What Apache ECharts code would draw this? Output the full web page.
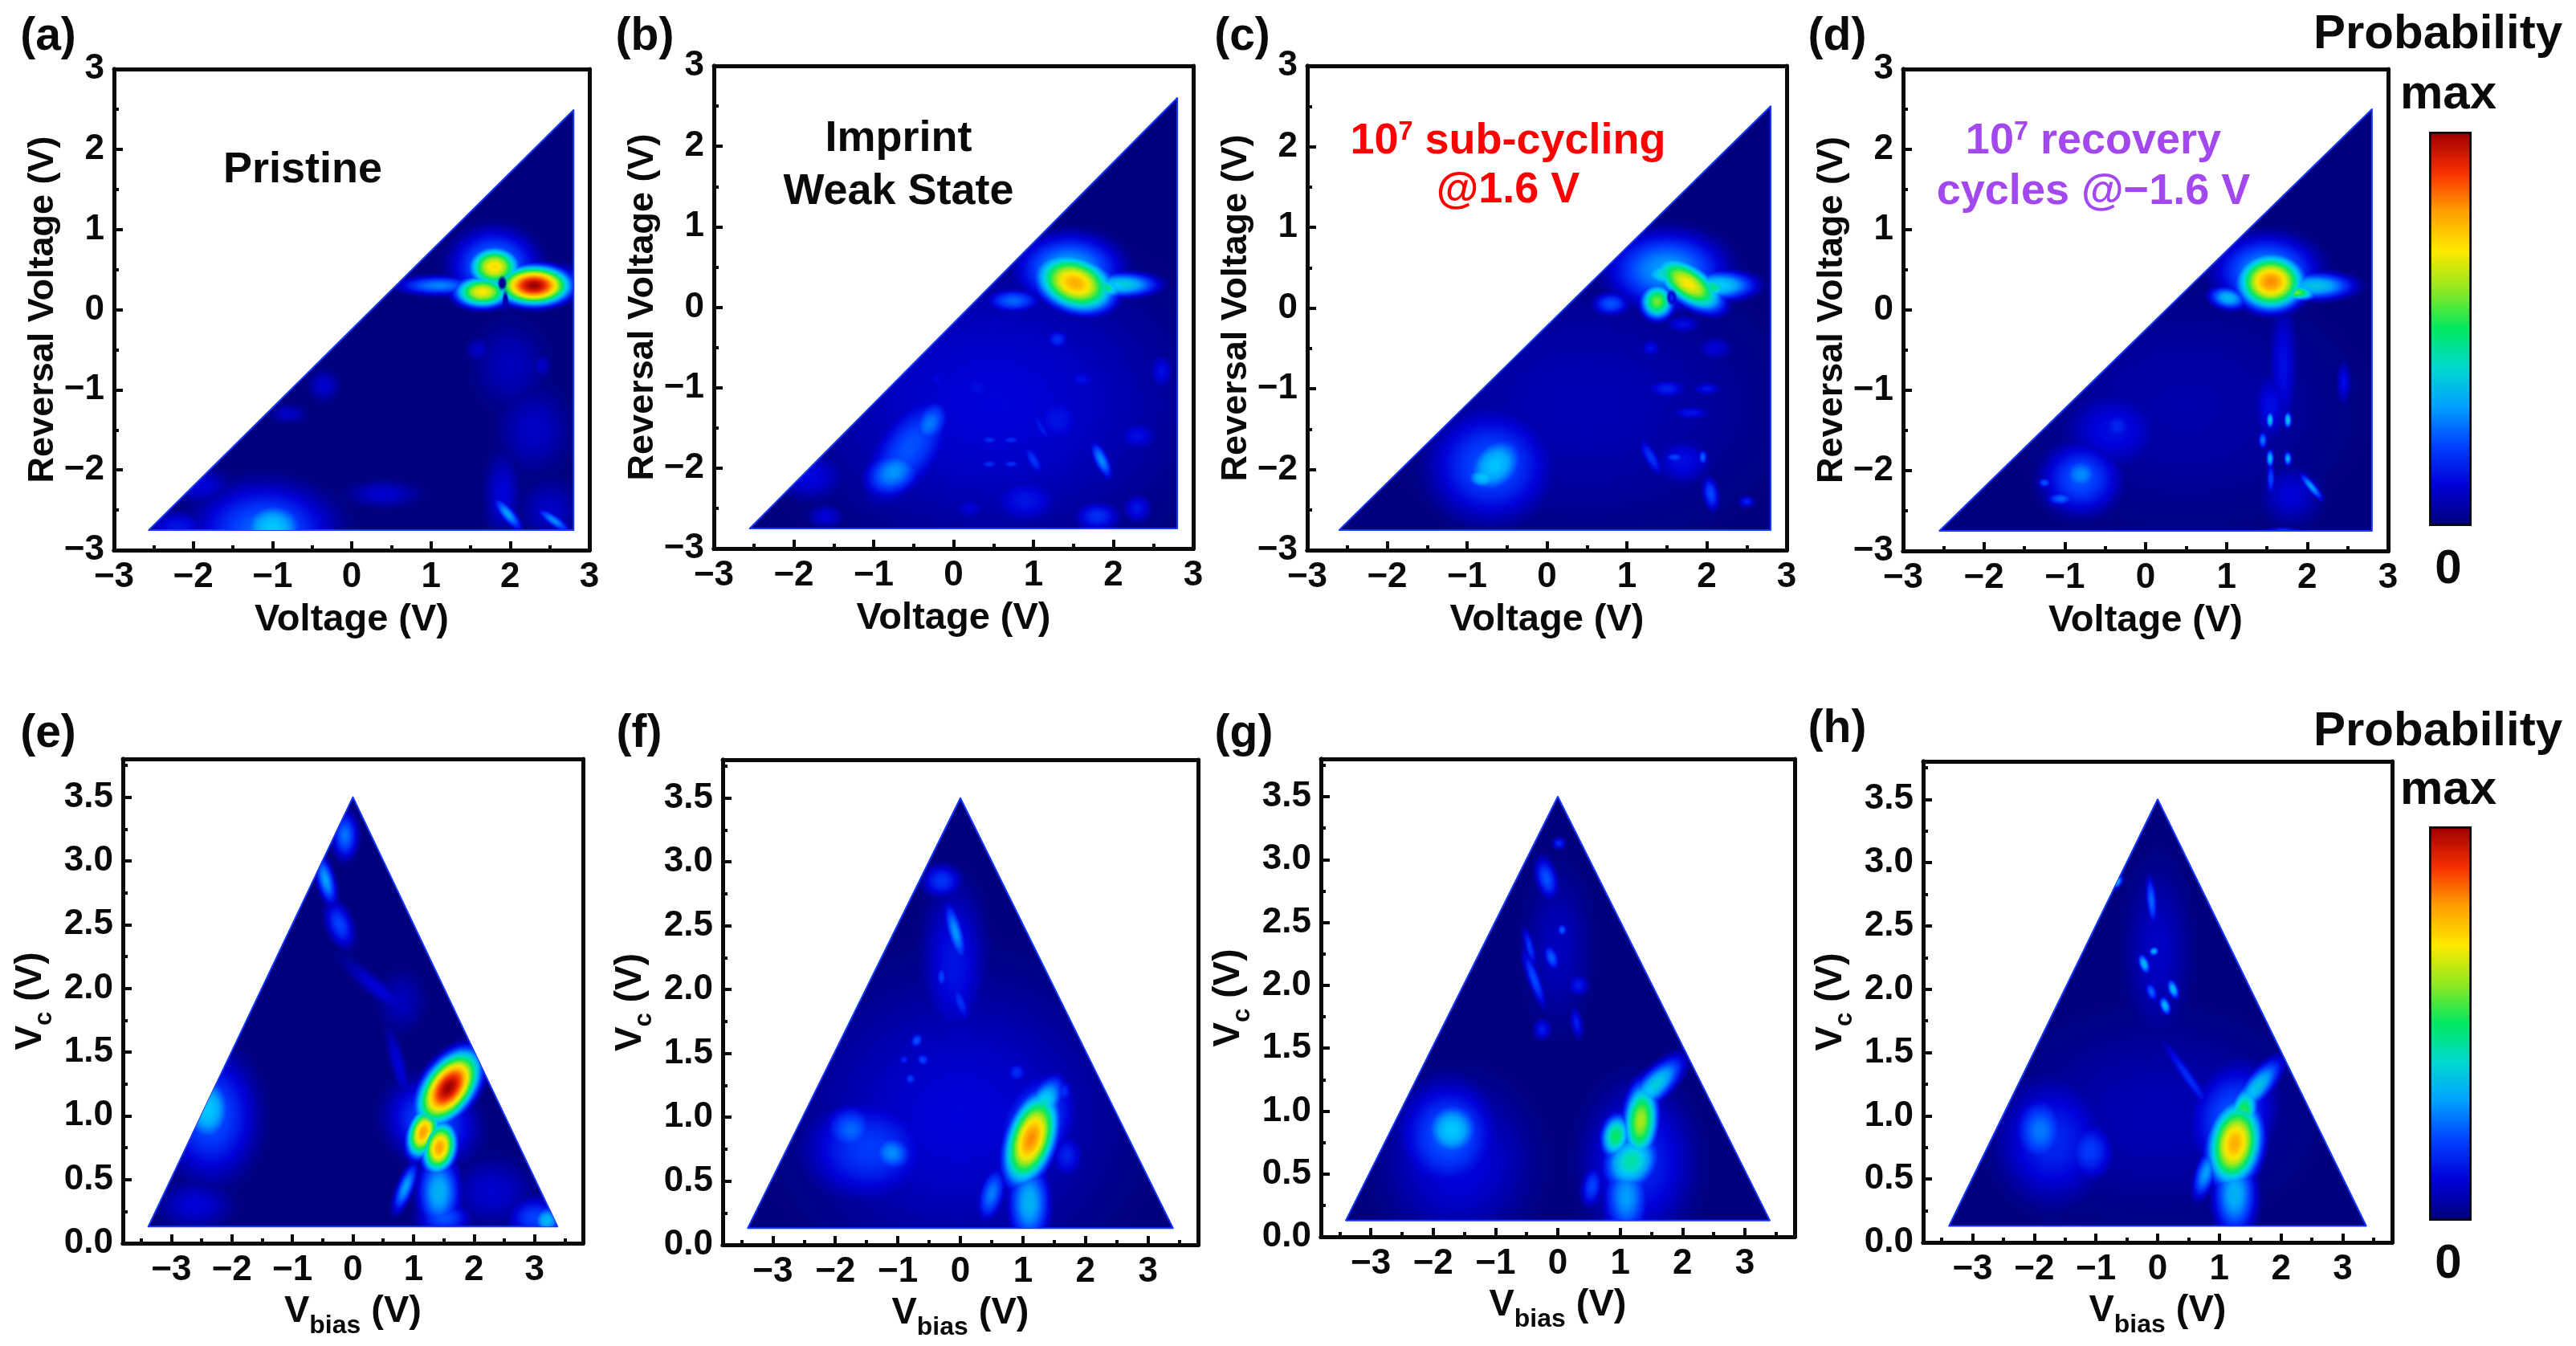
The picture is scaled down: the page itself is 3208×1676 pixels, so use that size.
<!DOCTYPE html>
<html><head><meta charset="utf-8"><style>html,body{margin:0;background:#fff}#c{width:3208px;height:1676px}</style>
<script src="https://cdn.jsdelivr.net/npm/echarts@6/dist/echarts.min.js"></script></head><body><div id="c"></div>
<script>
// Colour scale of the bars
const rampColors=['#00007f','#0000d8','#0040ff','#00a0ff','#00d8d0','#00e860','#90e820','#ffe800','#ffa000','#f83000','#a00000'];
// Axis ticks
const topMajor=[-3,-2,-1,0,1,2,3];
const topMinor=[-2.5,-1.5,-0.5,0.5,1.5,2.5];
const botXMajor=[-3,-2,-1,0,1,2,3];
const botXMinor=[-3.5,-2.5,-1.5,-0.5,0.5,1.5,2.5,3.5];
const botYMajor=[0,0.5,1,1.5,2,2.5,3,3.5];
const botYMinor=[0.25,0.75,1.25,1.75,2.25,2.75,3.25,3.75];
// Data-covered triangles (V)
const triA=[[-2.56,-2.75],[2.8,-2.75],[2.8,2.49]];
const triB=[[-2.55,-2.75],[2.8,-2.75],[2.8,2.6]];
const triC=[[-2.6,-2.75],[2.8,-2.75],[2.8,2.5]];
const triD=[[-2.55,-2.75],[2.8,-2.75],[2.8,2.5]];
const triE=[[-3.38,0.13],[3.38,0.13],[0,3.5]];
const triF=[[-3.4,0.13],[3.4,0.13],[0,3.5]];
const triG=[[-3.4,0.13],[3.4,0.13],[0,3.5]];
const triH=[[-3.38,0.13],[3.38,0.13],[0,3.5]];
// Probability features: [x, y, radiusX, radiusY, tiltDeg, level]
const hotA=[[1.9,-2.3,.3,.7,0,.1],[2.5,-2.5,.5,.5,0,.08],[-.35,-.95,.26,.26,0,.09],[-.8,-1.3,.3,.16,0,.08],[.4,-2.3,.6,.22,0,.09],[2,-.7,.6,.7,0,.07],[2.3,-1.5,.6,.7,0,.08],[-1.9,-2.2,.5,.3,0,.1],[1.6,-.5,.2,.2,0,.08],[2.4,-.7,.15,.2,0,.08],[-2.2,-2.7,.5,.25,0,.13],
[-1.1,-2.75,1.2,.8,0,.24],[-1,-2.72,.62,.48,0,.37],[1.97,-2.55,.36,.12,-50,.3],[2.55,-2.63,.34,.1,-35,.28],
[1.8,.55,.75,.62,0,.28],[1.1,.3,.72,.17,0,.27],[2.4,.32,.85,.32,0,.3],
[1.65,.22,.5,.28,0,.7],[1.8,.53,.46,.36,0,.72],[2.3,.3,.66,.35,0,1]];
const dipA=[[1.9,.33,.07,.11,0,.03],[1.94,.08,.05,.2,0,.07]];
const hotB=[[.5,-1.2,3.3,2.4,0,.1],[-1.8,-2.1,.6,.4,0,.11],[.9,-2.4,.6,.4,0,.13],[-.55,-1.75,1.1,.55,55,.22],[-.75,-2.05,.55,.4,30,.29],[-.3,-1.45,.46,.3,60,.26],[.75,.08,.46,.2,0,.24],
[1.85,-1.9,.36,.13,-65,.28],[1,-1.9,.3,.12,-60,.18],[1.1,-1.5,.4,.1,-60,.14],[.45,-1.65,.18,.08,0,.17],[.72,-1.65,.18,.08,0,.17],[.45,-1.95,.18,.08,0,.17],[.72,-1.95,.18,.08,0,.17],
[1.3,-.4,.2,.18,0,.17],[1.8,-2.6,.4,.25,0,.17],[1.3,-1.4,.5,.5,0,.13],[.3,-1,.35,.3,0,.12],[2.3,-1.6,.35,.25,0,.12],[1.6,-.9,.3,.2,0,.12],[2.6,-.8,.2,.3,0,.12],[-.2,-.9,.2,.2,0,.11],[2.3,-2.5,.25,.25,0,.13],[.2,-2.5,.3,.2,0,.1],[-1.6,-2.6,.3,.2,0,.1],
[1.45,.47,.9,.6,0,.32],[2.1,.28,.66,.22,0,.38],[1.85,.25,.42,.18,-10,.5],[1.52,.3,.72,.48,-20,.78]];
const hotC=[[.5,-1.2,3,2,0,.06],[-.7,-1.95,1.05,.95,0,.22],[-.65,-1.95,.62,.48,45,.36],[-.8,-2.1,.32,.22,0,.36],[1.3,-1.85,.36,.12,-60,.18],[1.95,-1.85,.08,.13,0,.24],[2.05,-2.3,.14,.3,10,.21],[2.5,-2.4,.14,.1,0,.15],[1.7,-1.9,.5,.4,0,.12],
[1.6,-1.85,.18,.09,0,.2],[1.5,-1,.34,.16,0,.15],[1.8,-1.3,.34,.12,0,.13],[2,-1,.24,.12,0,.13],[1.7,-.2,.3,.15,0,.12],[2.1,-.5,.3,.2,0,.1],[1.3,-.5,.18,.16,0,.12],[.8,.05,.32,.2,0,.22],
[1.5,.47,1.02,.66,0,.3],[2.15,.28,.66,.26,0,.38],[1.6,.42,.62,.24,0,.48],[1.38,.08,.3,.32,0,.58],[2,.25,.46,.2,0,.5],[1.77,.3,.7,.34,-35,.7]];
const dipC=[[1.56,.13,.08,.12,0,.16]];
const hotD=[[1.7,-.7,.24,1.1,0,.12],[1.55,-1.2,.3,.6,0,.12],[2.45,-.9,.12,.35,0,.12],[-.4,-1.5,.8,.65,0,.12],[1.8,-2.3,.5,.5,0,.1],[.5,-1.2,2.5,1.8,0,.05],[-.8,-2.1,.68,.62,0,.22],[-.8,-2.05,.38,.35,0,.28],[-1.25,-2.15,.12,.09,0,.22],[-1.05,-2.35,.24,.12,0,.24],[-.35,-1.45,.28,.28,0,.16],[1.7,-2.75,.24,.07,0,.18],
[1.54,-1.37,.07,.15,0,.36],[1.76,-1.37,.07,.15,0,.36],[1.45,-1.62,.08,.15,0,.26],[1.54,-1.85,.07,.16,0,.34],[1.76,-1.85,.07,.13,0,.32],[2.05,-2.2,.3,.08,-50,.3],[1.55,-2.1,.08,.28,0,.2],
[1.02,.15,.34,.2,-10,.34],[1.5,.48,.88,.62,0,.3],[2.1,.3,.68,.24,0,.36],[1.85,.22,.38,.14,-5,.58],[1.55,.35,.6,.5,0,.82]];
const hotE=[[2.3,.4,.9,.35,0,.09],[-2.6,.3,.8,.25,0,.1],[.4,2,1,.1,-40,.1],[.75,1.4,.9,.08,-75,.1],[.8,1.9,.5,.3,0,.07],[-.22,2.5,.55,.14,-70,.2],[-.13,3.2,.3,.26,0,.25],[-.45,2.85,.6,.1,-75,.3],
[-2.35,1,1.05,.68,0,.22],[-2.4,1.05,.6,.4,0,.37],[3,.2,.6,.22,0,.2],[3.2,.18,.34,.16,0,.34],[1.5,.2,.6,.18,0,.22],[.87,.44,.62,.09,68,.3],[1.42,.4,.5,.42,0,.33],[1.3,.95,.9,.5,60,.22],
[1.16,.87,.62,.17,72,.8],[1.43,.75,.62,.19,78,.8],[1.58,1.22,1,.27,54,1]];
const hotF=[[0,1,3.4,1.5,0,.1],[-.1,2.2,.7,.85,0,.13],[-1.45,.75,1.4,.55,0,.19],[-1.75,.9,.6,.28,0,.24],[-1.1,.72,.5,.22,-20,.28],[-.08,2.45,.68,.09,-75,.29],[-.3,2.85,.44,.18,0,.18],[-.3,2.1,.12,.12,0,.2],[0,1.9,.46,.08,-70,.17],
[-.7,1.6,.18,.07,60,.22],[-.6,1.45,.15,.08,60,.2],[-.8,1.3,.15,.07,60,.19],[-.9,1.45,.14,.06,60,.16],[.9,1.35,.24,.12,0,.17],[1.65,1.2,.2,.14,0,.17],[1.7,.7,.36,.24,0,.15],[.5,.4,.62,.14,75,.26],[1.1,.33,.48,.46,0,.33],[1.2,.95,1.2,.4,65,.24],[1.3,1.08,.78,.18,60,.42],[1.13,.83,1.1,.27,72,.82]];
const hotG=[[-1.6,.6,1.6,.85,0,.11],[1.3,.6,1.2,.82,0,.16],[-.18,2.85,.48,.12,-75,.22],[.07,2.44,.11,.07,0,.23],[-.1,2.22,.3,.08,-70,.23],[-.38,2.05,.68,.07,-70,.21],[-.45,2.3,.46,.06,-75,.18],[.02,3.13,.15,.07,0,.16],[.33,2,.24,.12,0,.14],[.3,1.7,.36,.07,-80,.14],[-.25,1.65,.2,.12,0,.14],[0,2.3,.7,.8,0,.07],
[-1.75,.8,1.1,.6,0,.23],[-1.7,.85,.66,.33,0,.37],[.55,.4,.46,.12,80,.2],[1.1,.32,.52,.46,0,.3],[1.55,1.2,.88,.17,45,.38],[1.18,.6,.72,.3,55,.44],[.93,.8,.52,.17,80,.5],[1.33,.92,.9,.2,85,.62]];
const hotH=[[.5,1.3,1,.07,-55,.17],[0,2.3,.7,.9,0,.08],[0,1,3,1,0,.06],[-1.7,.8,1.2,.66,0,.16],[-1.1,.72,.55,.32,0,.19],[-1.9,.88,.6,.38,0,.26],[-.1,2.7,.56,.06,-85,.24],[-.66,2.85,.18,.06,60,.33],[-.06,2.3,.11,.06,-70,.32],[-.22,2.2,.24,.06,-70,.34],[.25,2,.24,.06,-70,.34],[.12,1.87,.22,.06,-70,.34],[-.1,1.98,.22,.06,-70,.24],
[.78,.55,.62,.12,72,.3],[1.25,.38,.5,.46,0,.33],[1.2,1,1.2,.45,70,.22],[1.6,1.22,.85,.15,50,.36],[1.37,1,.75,.16,75,.55],[1.25,.78,1,.3,80,.78]];

const FONT='"Liberation Sans",Arial,sans-serif';
const INK='#0a0a0a';
const V='{a|V}{b|bias}{a| (V)}', VC='{a|V}{b|c}{a| (V)}';
const subRich=size=>({a:{fontFamily:FONT,fontWeight:'bold',fontSize:size,color:INK,verticalAlign:'bottom'},b:{fontFamily:FONT,fontWeight:'bold',fontSize:size*.68,color:INK,verticalAlign:'bottom',padding:[0,0,-10,0]}});
const panels=[
 {hot:hotA,dip:dipA,tri:triA,box:[142,734,86,685],kind:'top'},
 {hot:hotB,dip:[],tri:triB,box:[889,1486,82,683],kind:'top'},
 {hot:hotC,dip:dipC,tri:triC,box:[1628,2225,82,685],kind:'top'},
 {hot:hotD,dip:[],tri:triD,box:[2370,2974,86,686],kind:'top'},
 {hot:hotE,dip:[],tri:triE,box:[153,726,945,1548],kind:'bot'},
 {hot:hotF,dip:[],tri:triF,box:[900,1492,946,1550],kind:'bot'},
 {hot:hotG,dip:[],tri:triG,box:[1645,2235,945,1540],kind:'bot'},
 {hot:hotH,dip:[],tri:triH,box:[2395,2979,948,1547],kind:'bot'}];
const grid=[],xAxis=[],yAxis=[],series=[];
const line={show:true,onZero:false,lineStyle:{color:INK,width:5}};
const bareLabel={show:false};
const fmt=v=>String(v).replace('-','\u2212');
const SPLIT=.4; // below this level the colour scale only brightens, so layers combine by maximum
const stopsFor=(peak,mode)=>{const stops=[];
  for(let k=0;k<=24;k++){const u=k/24,f=(1-u*u)*(1-u*u),val=peak*f;let col;
    if(mode==='low') col=echarts.color.lerp(Math.min(val,SPLIT),rampColors);
    else if(mode==='high') col=echarts.color.modifyAlpha(echarts.color.lerp(val,rampColors),Math.max(0,Math.min(1,(val-SPLIT+.04)/.04)));
    else col=echarts.color.modifyAlpha(echarts.color.lerp(val,rampColors),Math.min(1,f*1.6));
    stops.push({offset:u,color:col});}
  return stops;};
const disc=(c,s,rot,stops)=>({type:'circle',x:c[0],y:c[1],scaleX:s[0]/50,scaleY:s[1]/50,rotation:rot,shape:{cx:0,cy:0,r:50},
  style:{fill:{type:'radial',x:.5,y:.5,r:.5,colorStops:stops,global:false}}});
panels.forEach((p,i)=>{
 const [l,r,t,b]=p.box, top=p.kind==='top';
 grid.push({left:l,top:t,width:r-l,height:b-t});
 const xr=top?[-3,3]:[-3.8,3.8], yr=top?[-3,3]:[0,3.8];
 const xMaj=top?topMajor:botXMajor,xMin=top?topMinor:botXMinor,yMaj=top?topMajor:botYMajor,yMin=top?topMinor:botYMinor;
 const base={gridIndex:i,type:'value',splitLine:{show:false},axisLine:line};
 const ax0=xAxis.length, ay0=yAxis.length;
 xAxis.push({...base,position:'bottom',min:xr[0],max:xr[1],z:10,
   axisTick:{show:true,inside:true,length:11,lineStyle:{color:INK,width:4},customValues:xMaj},
   axisLabel:{show:true,customValues:xMaj,formatter:fmt,margin:12,fontFamily:FONT,fontWeight:'bold',fontSize:44,color:INK},
   name:top?'Voltage (V)':V,nameLocation:'middle',nameGap:top?64:62,
   nameTextStyle:{fontFamily:FONT,fontWeight:'bold',fontSize:47,color:INK,rich:subRich(47)}});
 xAxis.push({...base,position:'bottom',min:xr[0],max:xr[1],z:10,axisTick:{show:true,inside:true,length:6,lineStyle:{color:INK,width:4},customValues:xMin},axisLabel:bareLabel});
 xAxis.push({...base,position:'top',min:xr[0],max:xr[1],z:10,axisTick:{show:false},axisLabel:bareLabel});
 yAxis.push({...base,position:'left',min:yr[0],max:yr[1],z:10,
   axisTick:{show:true,inside:true,length:11,lineStyle:{color:INK,width:4},customValues:yMaj},
   axisLabel:{show:true,customValues:yMaj,formatter:v=>top?fmt(v):v.toFixed(1),margin:12,fontFamily:FONT,fontWeight:'bold',fontSize:44,color:INK},
   name:top?'Reversal Voltage (V)':VC,nameLocation:'middle',nameRotate:90,nameGap:top?64:92,
   nameTextStyle:{fontFamily:FONT,fontWeight:'bold',fontSize:top?45:46,color:INK,rich:subRich(46)}});
 yAxis.push({...base,position:'left',min:yr[0],max:yr[1],z:10,axisTick:{show:true,inside:true,length:6,lineStyle:{color:INK,width:4},customValues:yMin},axisLabel:bareLabel});
 yAxis.push({...base,position:'right',min:yr[0],max:yr[1],z:10,axisTick:{show:false},axisLabel:bareLabel});
 const common={type:'custom',coordinateSystem:'cartesian2d',xAxisIndex:ax0,yAxisIndex:ay0,silent:true,clip:false,encode:{x:0,y:1}};
 const layer=(z,data,mode)=>series.push({...common,z,data,blendMode:mode==='low'?'lighten':'source-over',renderItem:(par,api)=>{
     const c=api.coord([api.value(0),api.value(1)]), s=api.size([api.value(2),api.value(3)]), peak=api.value(5), rot=api.value(4)*Math.PI/180;
     return {type:'group',clipPath:{type:'polygon',shape:{points:p.tri.map(v=>api.coord(v))}},
       children:[disc(c,s,rot,stopsFor(peak,mode))]};
   }});
 series.push({...common,z:2,data:[p.tri.flat()],
   renderItem:(par,api)=>({type:'polygon',shape:{points:p.tri.map(v=>api.coord(v))},style:{fill:rampColors[0],stroke:'#1438ff',lineWidth:2,lineJoin:'round'}})});
 layer(3,p.hot,'low');
 layer(4,p.hot.filter(h=>h[5]>SPLIT),'high');
 layer(5,p.dip,'dip');
});
const T=(text,x,y,size,color,extra)=>({text,left:x,top:y,textAlign:'center',textVerticalAlign:'middle',padding:0,
  textStyle:{fontFamily:FONT,fontWeight:'bold',fontSize:size,color:color||INK,...(extra||{})}});
const supRich=(size,color)=>({a:{fontFamily:FONT,fontWeight:'bold',fontSize:size,color,verticalAlign:'bottom'},s:{fontFamily:FONT,fontWeight:'bold',fontSize:size*.6,color,verticalAlign:'top'}});
const RED='#ff0000',PUR='#a348ee';
const title=[
 T('(a)',60,46,57),T('(b)',803,46,57),T('(c)',1547,46,57),T('(d)',2288,46,57),
 T('(e)',60,914,57),T('(f)',796,914,57),T('(g)',1549,914,57),T('(h)',2288,908,57),
 T('Pristine',377,212,54),T('Imprint',1119,173,54),T('Weak State',1119,239,54),
 T('{a|10}{s|7}{a| sub-cycling}',1878,176,54,RED,{rich:supRich(54,RED)}),T('@1.6 V',1878,237,54,RED),
 T('{a|10}{s|7}{a| recovery}',2607,176,54,PUR,{rich:supRich(54,PUR)}),T('cycles @\u22121.6 V',2607,239,54,PUR),
 T('Probability',3036,43,60),T('max',3049,118,60),T('0',3049,709,60),
 T('Probability',3036,911,60),T('max',3049,984,60),T('0',3049,1574,60)];
const bar=(top)=>({type:'continuous',min:0,max:1,seriesIndex:[],show:true,calculable:false,hoverLink:false,realtime:false,showLabel:false,text:null,
  left:3025,top,itemWidth:48,itemHeight:486,padding:0,borderColor:INK,borderWidth:5,inRange:{color:rampColors},outOfRange:{color:rampColors[0]}});
const chart=echarts.init(document.getElementById('c'),null,{renderer:'canvas'});
chart.setOption({animation:false,backgroundColor:'#fff',tooltip:{show:false},title,grid,xAxis,yAxis,series,visualMap:[bar(164),bar(1029)]});
</script></body></html>
